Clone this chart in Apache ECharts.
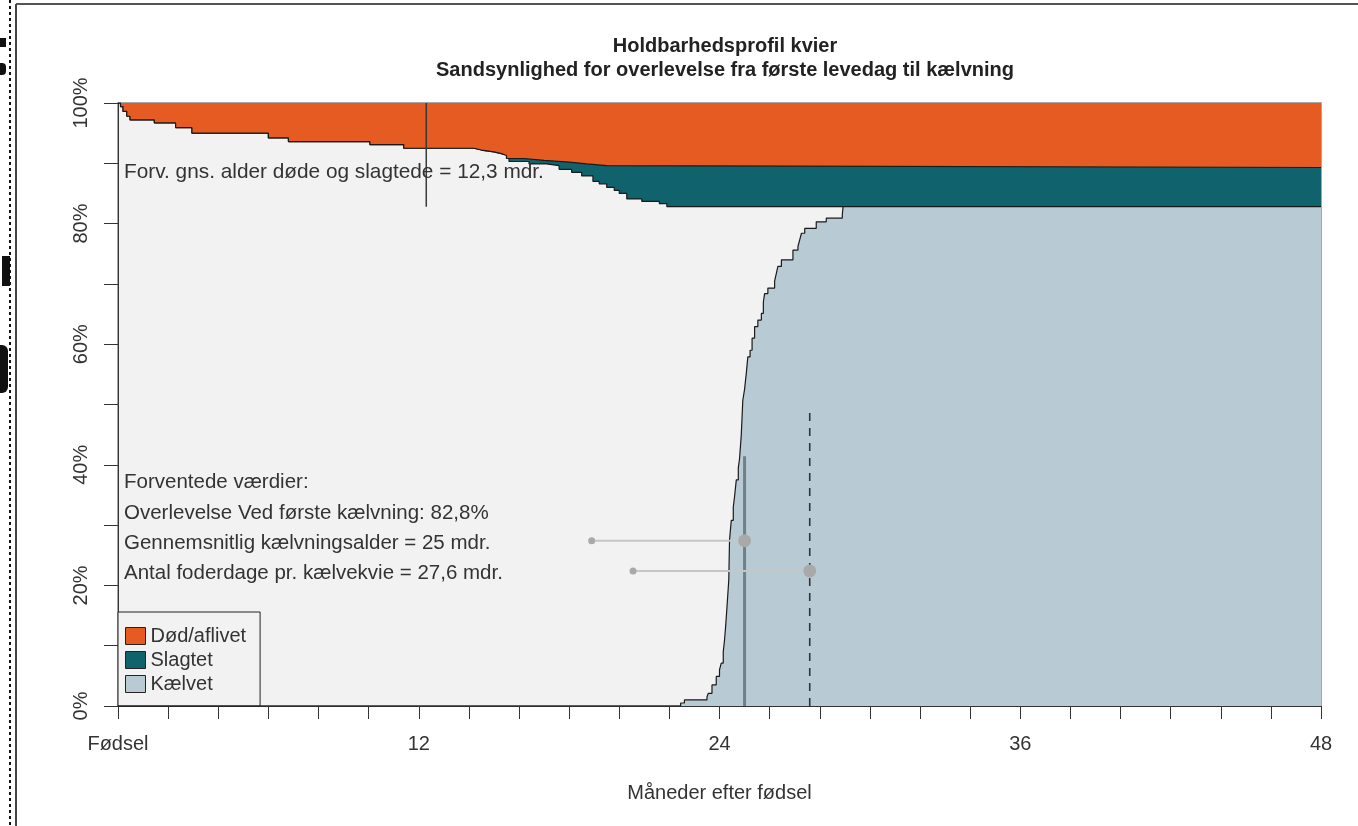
<!DOCTYPE html>
<html>
<head>
<meta charset="utf-8">
<script src="https://cdn.jsdelivr.net/npm/echarts@6/dist/echarts.min.js"></script>
<style>
html,body{margin:0;padding:0;background:#fff;}
#chart{width:1358px;height:826px;}
</style>
</head>
<body>
<div id="chart"></div>
<script>
// ---- Data ----
const titleLines = ['Holdbarhedsprofil kvier', 'Sandsynlighed for overlevelse fra første levedag til kælvning'];
const xAxisName = 'Måneder efter fødsel';
const xTickLabels = {0: 'Fødsel', 12: '12', 24: '24', 36: '36', 48: '48'};
const legendNames = ['Død/aflivet', 'Slagtet', 'Kælvet'];

// Upper boundary of survivors not dead (100% - cumulative dead), step changes [month, %]
const deadMonths = [0, 0.1, 0.2, 0.35, 0.48, 1.45, 2.3, 2.95, 6.0, 6.8, 10.05, 11.4, 14.2, 14.5, 15.0, 15.3, 15.5, 16.2, 17.0, 18.0, 18.7, 19.5, 48];
const deadLevel  = [100, 99.4, 98.6, 97.8, 97.2, 96.7, 95.9, 95.0, 94.2, 93.6, 93.1, 92.5, 92.2, 91.9, 91.6, 91.3, 90.8, 90.5, 90.2, 89.9, 89.6, 89.3, 89.3];

// Survivors (100% - dead - slaughtered)
const aliveMonths = [0, 0.1, 0.2, 0.35, 0.48, 1.45, 2.3, 2.95, 6.0, 6.8, 10.05, 11.4, 14.2, 14.5, 15.0, 15.3, 15.6, 16.4, 17.1, 17.6, 18.1, 18.5, 18.95, 19.2, 19.5, 19.8, 20.0, 20.3, 20.9, 21.6, 21.9, 48];
const aliveLevel  = [100, 99.4, 98.6, 97.8, 97.2, 96.7, 95.9, 95.0, 94.2, 93.6, 93.1, 92.5, 92.2, 91.9, 91.6, 91.3, 90.3, 89.9, 89.6, 89.0, 88.5, 87.9, 87.0, 86.6, 86.0, 85.5, 85.0, 84.1, 83.7, 83.3, 82.8, 82.8];

// Cumulative calved
const calvMonths = [0, 22.45, 22.6, 23.5, 23.55, 23.7, 23.87, 24.0, 24.07, 24.15, 24.2, 24.25, 24.3, 24.37, 24.4, 24.47, 24.55, 24.6, 24.67, 24.75, 24.8, 24.87, 24.93, 25.0, 25.07, 25.13, 25.22, 25.3, 25.4, 25.53, 25.67, 25.75, 25.8, 25.93, 26.2, 26.27, 26.33, 26.47, 26.93, 27.13, 27.2, 27.27, 27.4, 27.86, 28.26, 28.9, 28.93, 48];
const calvLevel  = [0, 0.5, 1.0, 1.5, 2.1, 3.5, 4.9, 6.0, 7.1, 9.0, 10.9, 13.5, 16.5, 20.9, 27.5, 30.8, 33.0, 34.7, 37.5, 39.5, 41.0, 45.0, 50.7, 52.5, 55.2, 57.9, 59.0, 61.0, 62.9, 64.0, 65.1, 67.0, 68.4, 69.3, 70.5, 71.8, 72.9, 74.0, 75.6, 76.2, 77.3, 78.4, 79.2, 80.3, 80.9, 81.5, 82.8, 82.8];

// Expected values
const meanDeadAge = 12.3;
const survivalAtCalving = 82.8;
const meanCalvAge = 25;
const meanCalvLineTop = 41.4;
const feedDays = 27.6;
const feedDaysLineTop = 49;
const calvAgeRowLevel = 27.4, calvAgeRowStart = 18.9;
const feedRowLevel = 22.4, feedRowStart = 20.55;

const annotations = [
  'Forv. gns. alder døde og slagtede = 12,3 mdr.',
  'Forventede værdier:',
  'Overlevelse Ved første kælvning: 82,8%',
  'Gennemsnitlig kælvningsalder = 25 mdr.',
  'Antal foderdage pr. kælvekvie = 27,6 mdr.'
];

// ---- Chart ----
const FONT = '"Liberation Sans", Arial, sans-serif';
const zip = (xs, ys) => xs.map((x, i) => [x, ys[i]]);
const COL_DEAD = '#E55B21', COL_SLAUGHT = '#10626C', COL_CALV = '#B8CBD4';

const chart = echarts.init(document.getElementById('chart'), null, {renderer: 'canvas'});

const txt = (s, x, y, size) => ({
  type: 'text', z: 50,
  style: {x: x, y: y, text: s, font: size + 'px ' + FONT, fill: '#333', verticalAlign: 'middle', textAlign: 'left'}
});

const option = {
  animation: false,
  backgroundColor: '#ffffff',
  title: {
    text: titleLines.join('\n'),
    left: 720, top: 29, textAlign: 'center',
    textStyle: {fontFamily: FONT, fontSize: 20, fontWeight: 'bold', color: '#222', lineHeight: 24}
  },
  grid: {
    left: 118, right: 37, top: 103, bottom: 120,
    show: true, backgroundColor: '#f2f2f2', borderColor: '#8a8a8a', borderWidth: 1.5,
    containLabel: false, outerBoundsMode: 'none'
  },
  legend: {
    orient: 'vertical', left: 118, top: 612,
    padding: [14, 14, 12, 7],
    itemWidth: 20, itemHeight: 17, itemGap: 4,
    icon: 'rect', selectedMode: false,
    backgroundColor: '#f2f2f2', borderColor: '#222', borderWidth: 1, borderRadius: 0,
    textStyle: {fontFamily: FONT, fontSize: 20, color: '#333'},
    data: [
      {name: legendNames[0], itemStyle: {color: COL_DEAD, borderColor: '#222', borderWidth: 1}},
      {name: legendNames[1], itemStyle: {color: COL_SLAUGHT, borderColor: '#222', borderWidth: 1}},
      {name: legendNames[2], itemStyle: {color: COL_CALV, borderColor: '#222', borderWidth: 1}}
    ]
  },
  xAxis: {
    type: 'value', min: 0, max: 48, interval: 2,
    name: xAxisName, nameLocation: 'middle', nameGap: 77,
    nameTextStyle: {fontFamily: FONT, fontSize: 20, color: '#333'},
    axisLine: {show: true, onZero: false, lineStyle: {color: '#333', width: 1}},
    axisTick: {show: true, length: 13, lineStyle: {color: '#333', width: 1}},
    axisLabel: {
      show: true, margin: 28, showMinLabel: true, showMaxLabel: true, hideOverlap: false,
      fontFamily: FONT, fontSize: 20, color: '#333',
      formatter: v => (xTickLabels[v] !== undefined ? xTickLabels[v] : '')
    },
    splitLine: {show: false}
  },
  yAxis: {
    type: 'value', min: 0, max: 100, interval: 10,
    axisLine: {show: true, onZero: false, lineStyle: {color: '#333', width: 1}},
    axisTick: {show: true, length: 14, lineStyle: {color: '#333', width: 1}},
    axisLabel: {
      show: true, rotate: 90, margin: 27, showMinLabel: true, showMaxLabel: true,
      fontFamily: FONT, fontSize: 20, color: '#333',
      formatter: v => (v % 20 === 0 ? v + '%' : '')
    },
    splitLine: {show: false}
  },
  series: [
    {
      name: legendNames[1], type: 'line', step: 'end', z: 2,
      data: zip(aliveMonths, aliveLevel), symbol: 'none', showSymbol: false,
      itemStyle: {color: COL_SLAUGHT},
      lineStyle: {color: '#1a1a1a', width: 1.2},
      areaStyle: {color: COL_SLAUGHT, opacity: 1, origin: 'end'}
    },
    {
      name: legendNames[0], type: 'line', step: 'end', z: 3,
      data: zip(deadMonths, deadLevel), symbol: 'none', showSymbol: false,
      itemStyle: {color: COL_DEAD},
      lineStyle: {color: '#1a1a1a', width: 1.2},
      areaStyle: {color: COL_DEAD, opacity: 1, origin: 'end'}
    },
    {
      name: legendNames[2], type: 'line', step: 'end', z: 4,
      data: zip(calvMonths, calvLevel), symbol: 'none', showSymbol: false,
      itemStyle: {color: COL_CALV},
      lineStyle: {color: '#1a1a1a', width: 1.2},
      areaStyle: {color: COL_CALV, opacity: 1, origin: 'start'}
    },
    {
      name: 'meanDeadAge', type: 'line', z: 6, symbol: 'none',
      data: [[meanDeadAge, survivalAtCalving], [meanDeadAge, 100]],
      lineStyle: {color: '#3a3a3a', width: 1.5}
    },
    {
      name: 'meanCalvAge', type: 'line', z: 6, symbol: 'none',
      data: [[meanCalvAge, 0], [meanCalvAge, meanCalvLineTop]],
      lineStyle: {color: '#6f8087', width: 3}
    },
    {
      name: 'feedDays', type: 'line', z: 6, symbol: 'none',
      data: [[feedDays, 0], [feedDays, feedDaysLineTop]],
      lineStyle: {color: '#333', width: 1.6, type: [8, 7]}
    },
    {
      name: 'calvAgeRow', type: 'line', z: 7, symbol: 'circle',
      symbolSize: (v, p) => (p.dataIndex === 0 ? 7 : 13),
      data: [[calvAgeRowStart, calvAgeRowLevel], [meanCalvAge, calvAgeRowLevel]],
      itemStyle: {color: '#a9a9a9'},
      lineStyle: {color: '#c6c6c6', width: 2}
    },
    {
      name: 'feedRow', type: 'line', z: 7, symbol: 'circle',
      symbolSize: (v, p) => (p.dataIndex === 0 ? 7 : 13),
      data: [[feedRowStart, feedRowLevel], [feedDays, feedRowLevel]],
      itemStyle: {color: '#a9a9a9'},
      lineStyle: {color: '#c6c6c6', width: 2}
    }
  ],
  graphic: [
    txt(annotations[0], 124, 172, 20.8),
    txt(annotations[1], 124, 482, 20.5),
    txt(annotations[2], 124, 513, 20.5),
    txt(annotations[3], 124, 543, 20.5),
    txt(annotations[4], 124, 573, 20.5),
    // page frame
    {type: 'line', z: 60, shape: {x1: 16, y1: 4, x2: 1358, y2: 4}, style: {stroke: '#555', lineWidth: 2}},
    {type: 'line', z: 60, shape: {x1: 16, y1: 4, x2: 16, y2: 826}, style: {stroke: '#444', lineWidth: 2}},
    {type: 'line', z: 60, shape: {x1: 10, y1: 0, x2: 10, y2: 826}, style: {stroke: '#111', lineWidth: 2, lineDash: [3, 3]}},
    // cut-off glyph remnants at the left edge
    {type: 'rect', z: 60, shape: {x: 0, y: 38, width: 6, height: 9}, style: {fill: '#111'}},
    {type: 'rect', z: 60, shape: {x: 0, y: 63, width: 6, height: 12, r: [0, 4, 4, 0]}, style: {fill: '#111'}},
    {type: 'rect', z: 60, shape: {x: 2, y: 256, width: 8, height: 30}, style: {fill: '#111'}},
    {type: 'rect', z: 60, shape: {x: 0, y: 345, width: 8, height: 48, r: [0, 6, 6, 0]}, style: {fill: '#111'}}
  ]
};

chart.setOption(option);
</script>
</body>
</html>
